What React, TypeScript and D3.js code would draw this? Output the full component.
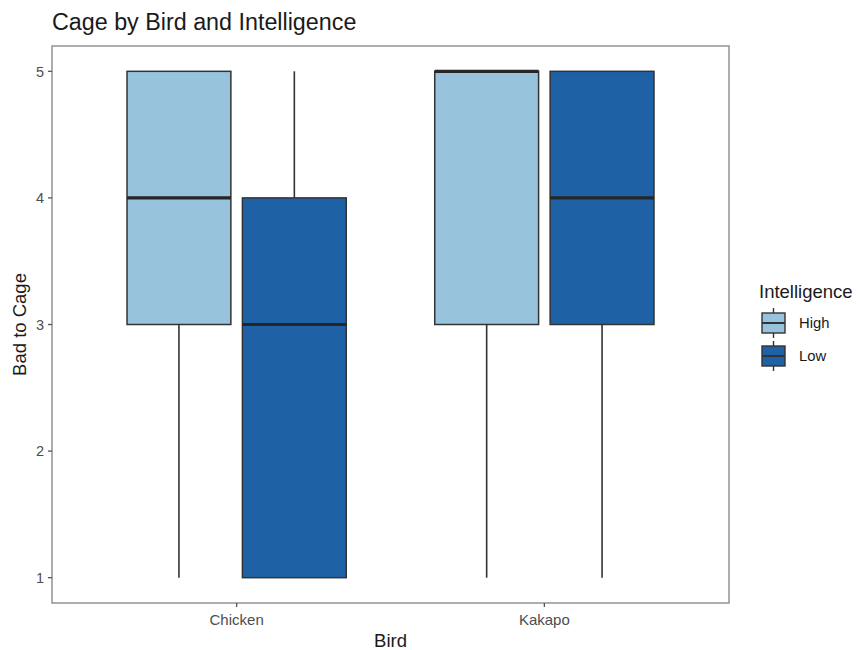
import * as d3 from 'd3';
import React from 'react';

const birds = ['Chicken', 'Kakapo'];
const intelligence = ['High', 'Low'];
const fills = ['#97c3dc', '#1e62a5'];
const yTicks = [1, 2, 3, 4, 5];

// five-number summaries, in order Chicken-High, Chicken-Low, Kakapo-High, Kakapo-Low
const groupBird = ['Chicken', 'Chicken', 'Kakapo', 'Kakapo'];
const groupLevel = ['High', 'Low', 'High', 'Low'];
const lowerWhisker = [1, 1, 1, 1];
const q1 = [3, 1, 3, 3];
const median = [4, 3, 5, 4];
const q3 = [5, 4, 5, 5];
const upperWhisker = [5, 5, 5, 5];

const width = 858;
const height = 650;
const panelLeft = 52;
const panelRight = 729;
const panelTop = 46;
const panelBottom = 603;

const font = "'Liberation Sans', Arial, Helvetica, sans-serif";

export default function App() {
  const x = d3.scaleBand<string>()
    .domain(birds)
    .range([panelLeft, panelRight])
    .paddingInner(0)
    .paddingOuter(0.1);

  // dodge width 0.75, box width 0.9 of each dodge slot
  const dodge = x.bandwidth() * 0.75;
  const xSub = d3.scaleBand<string>()
    .domain(intelligence)
    .range([-dodge / 2, dodge / 2]);
  const boxW = xSub.bandwidth() * 0.9;

  const y = d3.scaleLinear()
    .domain([0.8, 5.2])
    .range([panelBottom, panelTop]);

  const color = d3.scaleOrdinal<string, string>().domain(intelligence).range(fills);

  const groups = groupBird.map((b, i) => ({
    bird: b,
    level: groupLevel[i],
    cx: (x(b) as number) + x.bandwidth() / 2 + (xSub(groupLevel[i]) as number) + xSub.bandwidth() / 2,
    i,
  }));

  return (
    <svg width={width} height={height} style={{ display: 'block', position: 'absolute', left: 0, top: 0 }}
      fontFamily={font}>
      <rect width={width} height={height} fill="#fff" />
      <text x={panelLeft} y={30} fontSize={23.3} fill="#1a1a1a">Cage by Bird and Intelligence</text>

      {/* boxes */}
      {groups.map(g => {
        const i = g.i;
        const x0 = g.cx - boxW / 2;
        return (
          <g key={i}>
            <line x1={g.cx} x2={g.cx} y1={y(upperWhisker[i])} y2={y(q3[i])} stroke="#333" strokeWidth={1.6} />
            <line x1={g.cx} x2={g.cx} y1={y(q1[i])} y2={y(lowerWhisker[i])} stroke="#333" strokeWidth={1.6} />
            <rect x={x0} width={boxW} y={y(q3[i])} height={y(q1[i]) - y(q3[i])}
              fill={color(g.level)} stroke="#333" strokeWidth={1.5} />
            <line x1={x0} x2={x0 + boxW} y1={y(median[i])} y2={y(median[i])} stroke="#262626" strokeWidth={3.2} />
          </g>
        );
      })}

      {/* panel border */}
      <rect x={panelLeft} y={panelTop} width={panelRight - panelLeft} height={panelBottom - panelTop}
        fill="none" stroke="#8c8c8c" strokeWidth={1.4} />

      {/* y axis */}
      {yTicks.map(t => (
        <g key={t}>
          <line x1={panelLeft - 4} x2={panelLeft} y1={y(t)} y2={y(t)} stroke="#555" strokeWidth={1.3} />
          <text x={panelLeft - 8} y={y(t)} dy="0.36em" textAnchor="end" fontSize={14.5} fill="#4d4d4d">{t}</text>
        </g>
      ))}
      <text transform={`translate(26,${(panelTop + panelBottom) / 2}) rotate(-90)`} textAnchor="middle"
        fontSize={18.5} fill="#1a1a1a">Bad to Cage</text>

      {/* x axis */}
      {birds.map(b => {
        const cx = (x(b) as number) + x.bandwidth() / 2;
        return (
          <g key={b}>
            <line x1={cx} x2={cx} y1={panelBottom} y2={panelBottom + 4} stroke="#555" strokeWidth={1.3} />
            <text x={cx} y={625} textAnchor="middle" fontSize={15} fill="#4d4d4d">{b}</text>
          </g>
        );
      })}
      <text x={(panelLeft + panelRight) / 2} y={647} textAnchor="middle" fontSize={18.5} fill="#1a1a1a">Bird</text>

      {/* legend */}
      <text x={759} y={298} fontSize={18.5} fill="#1a1a1a">Intelligence</text>
      {intelligence.map((lv, k) => {
        const cy = 323 + k * 33;
        return (
          <g key={lv}>
            <line x1={773.5} x2={773.5} y1={cy - 15} y2={cy + 15} stroke="#333" strokeWidth={1.4} />
            <rect x={762} y={cy - 10} width={23} height={20} fill={color(lv)} stroke="#333" strokeWidth={1.4} />
            <line x1={762} x2={785} y1={cy} y2={cy} stroke="#333" strokeWidth={2} />
            <text x={799} y={cy} dy="0.36em" fontSize={14.8} fill="#1a1a1a">{lv}</text>
          </g>
        );
      })}
    </svg>
  );
}
